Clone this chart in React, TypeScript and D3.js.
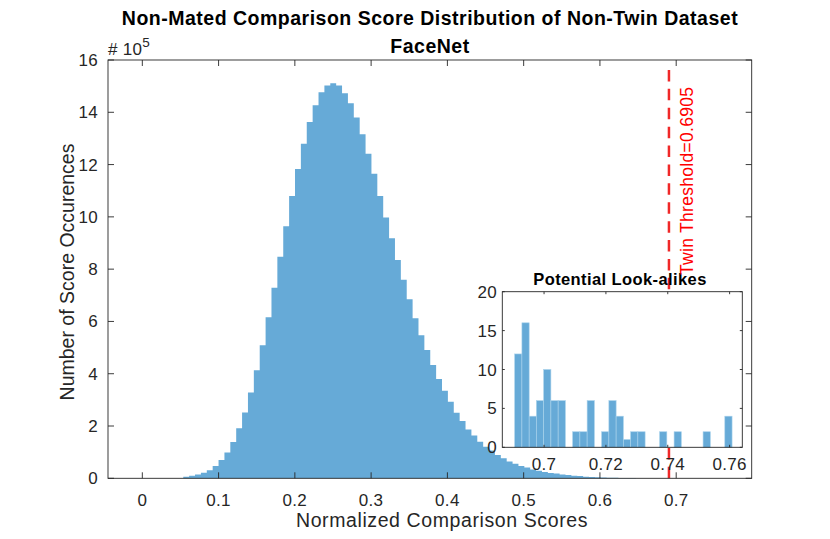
import React from 'react';
import * as d3 from 'd3';

// main histogram counts (x 10^5), one value per bin
const mainBinStart = 0.0537;
const mainBinWidth = 0.00771;
const mainCounts = [
  0.06, 0.1, 0.15, 0.21, 0.31, 0.47, 0.7, 0.99, 1.39, 1.91,
  2.52, 3.28, 4.13, 5.09, 6.16, 7.29, 8.47, 9.64, 10.8, 11.83,
  12.8, 13.63, 14.27, 14.77, 15.02, 15.11, 15.02, 14.73, 14.35, 13.8,
  13.16, 12.41, 11.65, 10.8, 9.98, 9.18, 8.35, 7.59, 6.85, 6.12,
  5.47, 4.91, 4.33, 3.8, 3.35, 2.93, 2.51, 2.19, 1.87, 1.64,
  1.4, 1.21, 1.06, 0.89, 0.77, 0.64, 0.56, 0.47, 0.41, 0.34,
  0.29, 0.24, 0.2, 0.18, 0.15, 0.13, 0.1, 0.09, 0.06, 0.05,
  0.04, 0.03, 0.025, 0.02, 0.015, 0.012, 0.008, 0.005,
];

// inset: look-alike pairs above the threshold
const insetBinStart = 0.6905;
const insetBinWidth = 0.002343;
const insetCounts = [
  12, 16, 4, 6, 10, 6, 6, 0, 2, 2, 6, 0, 2, 6, 4,
  1, 2, 2, 0, 0, 2, 0, 2, 0, 0, 0, 2, 0, 0, 4,
];

const threshold = 0.6905;
const xTicks = [0, 0.1, 0.2, 0.3, 0.4, 0.5, 0.6, 0.7];
const yTicks = [0, 2, 4, 6, 8, 10, 12, 14, 16];
const insetXTicks = [0.7, 0.72, 0.74, 0.76];
const insetYTicks = [0, 5, 10, 15, 20];

const W = 830;
const H = 539;
const axisColor = '#262626';
const barColor = '#66aad7';
const font = 'Liberation Sans, Arial, Helvetica, sans-serif';

export default function App() {
  const x = d3.scaleLinear().domain([-0.045, 0.799]).range([108, 751.7]);
  const y = d3.scaleLinear().domain([0, 16]).range([478.3, 60]);
  const ix = d3.scaleLinear().domain([0.6865, 0.7641]).range([502.3, 742.3]);
  const iy = d3.scaleLinear().domain([0, 20]).range([447.3, 291.7]);

  const [x0, x1] = x.range();
  const [y0, y1] = y.range();
  const [ix0, ix1] = ix.range();
  const [iy0, iy1] = iy.range();
  const tick = 6;
  const itick = 2.5;

  // histogram outline as one stepped area, so bars have no seams
  const steps = mainCounts.map((c, i) => ({ a: mainBinStart + i * mainBinWidth, c }));
  steps.push({ a: mainBinStart + mainCounts.length * mainBinWidth, c: 0 });
  const area = d3
    .area<{ a: number; c: number }>()
    .x((d) => x(d.a))
    .y0(y(0))
    .y1((d) => y(d.c))
    .curve(d3.curveStepAfter);

  return (
    <svg
      width={W}
      height={H}
      style={{ position: 'absolute', left: 0, top: 0, background: '#fff' }}
      fontFamily={font}
    >
      {/* main histogram */}
      <path d={area(steps) || ''} fill={barColor} />

      {/* threshold line */}
      <line
        x1={x(threshold)}
        x2={x(threshold)}
        y1={y(15.62)}
        y2={y(0)}
        stroke="#f02828"
        strokeWidth={2.5}
        strokeDasharray="11.5,7.4"
      />

      {/* main axes box */}
      <g stroke={axisColor} strokeWidth={0.9} fill="none">
        <rect x={x0} y={y1} width={x1 - x0} height={y0 - y1} />
        {xTicks.map((t) => (
          <g key={t}>
            <line x1={x(t)} x2={x(t)} y1={y0} y2={y0 - tick} />
            <line x1={x(t)} x2={x(t)} y1={y1} y2={y1 + tick} />
          </g>
        ))}
        {yTicks.map((t) => (
          <g key={t}>
            <line x1={x0} x2={x0 + tick} y1={y(t)} y2={y(t)} />
            <line x1={x1} x2={x1 - tick} y1={y(t)} y2={y(t)} />
          </g>
        ))}
      </g>
      <g fill={axisColor} fontSize={17}>
        {xTicks.map((t) => (
          <text key={t} x={x(t)} y={506} textAnchor="middle" letterSpacing={0.3}>
            {String(t)}
          </text>
        ))}
        {yTicks.map((t) => (
          <text key={t} x={98} y={y(t) + 6} textAnchor="end" letterSpacing={0.3}>
            {String(t)}
          </text>
        ))}
      </g>
      <text x={108} y={55} fill={axisColor} fontSize={17} letterSpacing={0.3}>
        # 10
        <tspan fontSize={13.5} dy={-8}>5</tspan>
      </text>

      {/* inset */}
      <rect x={ix0} y={iy1} width={ix1 - ix0} height={iy0 - iy1} fill="#fff" />
      <g>
        {insetCounts.map((c, i) => {
          const a = insetBinStart + i * insetBinWidth;
          if (c === 0) return null;
          return (
            <rect
              key={i}
              x={ix(a)}
              y={iy(c)}
              width={ix(a + insetBinWidth) - ix(a)}
              height={iy(0) - iy(c)}
              fill={barColor}
              stroke="#a9d2ec"
              strokeWidth={0.6}
            />
          );
        })}
      </g>
      <g stroke={axisColor} strokeWidth={0.9} fill="none">
        <rect x={ix0} y={iy1} width={ix1 - ix0} height={iy0 - iy1} />
        {insetXTicks.map((t) => (
          <g key={t}>
            <line x1={ix(t)} x2={ix(t)} y1={iy0} y2={iy0 - itick} />
            <line x1={ix(t)} x2={ix(t)} y1={iy1} y2={iy1 + itick} />
          </g>
        ))}
        {insetYTicks.map((t) => (
          <g key={t}>
            <line x1={ix0} x2={ix0 + itick} y1={iy(t)} y2={iy(t)} />
            <line x1={ix1} x2={ix1 - itick} y1={iy(t)} y2={iy(t)} />
          </g>
        ))}
      </g>
      <g fill={axisColor} fontSize={17}>
        {insetXTicks.map((t) => (
          <text key={t} x={ix(t)} y={470} textAnchor="middle" letterSpacing={0.3}>
            {String(t)}
          </text>
        ))}
        {insetYTicks.map((t) => (
          <text key={t} x={497} y={iy(t) + 6} textAnchor="end" letterSpacing={0.3}>
            {String(t)}
          </text>
        ))}
      </g>
      <text
        x={620}
        y={285}
        textAnchor="middle"
        fontSize={16.5}
        fontWeight="bold"
        letterSpacing={0.4}
        fill="#000"
      >
        Potential Look-alikes
      </text>

      {/* threshold label */}
      <text
        transform={`translate(693,275) rotate(-90)`}
        fontSize={17.5}
        fill="#ff0000"
        letterSpacing={0.3}
      >
        Twin Threshold=0.6905
      </text>

      {/* titles and labels */}
      <g fill="#000" fontWeight="bold" fontSize={19.5} textAnchor="middle" letterSpacing={0.5}>
        <text x={430} y={25}>Non-Mated Comparison Score Distribution of Non-Twin Dataset</text>
        <text x={430} y={53}>FaceNet</text>
      </g>
      <text x={442} y={527} textAnchor="middle" fontSize={19.5} fill={axisColor} letterSpacing={0.6}>
        Normalized Comparison Scores
      </text>
      <text
        transform={`translate(74,272) rotate(-90)`}
        textAnchor="middle"
        fontSize={19.5}
        fill={axisColor}
      >
        Number of Score Occurences
      </text>
    </svg>
  );
}
